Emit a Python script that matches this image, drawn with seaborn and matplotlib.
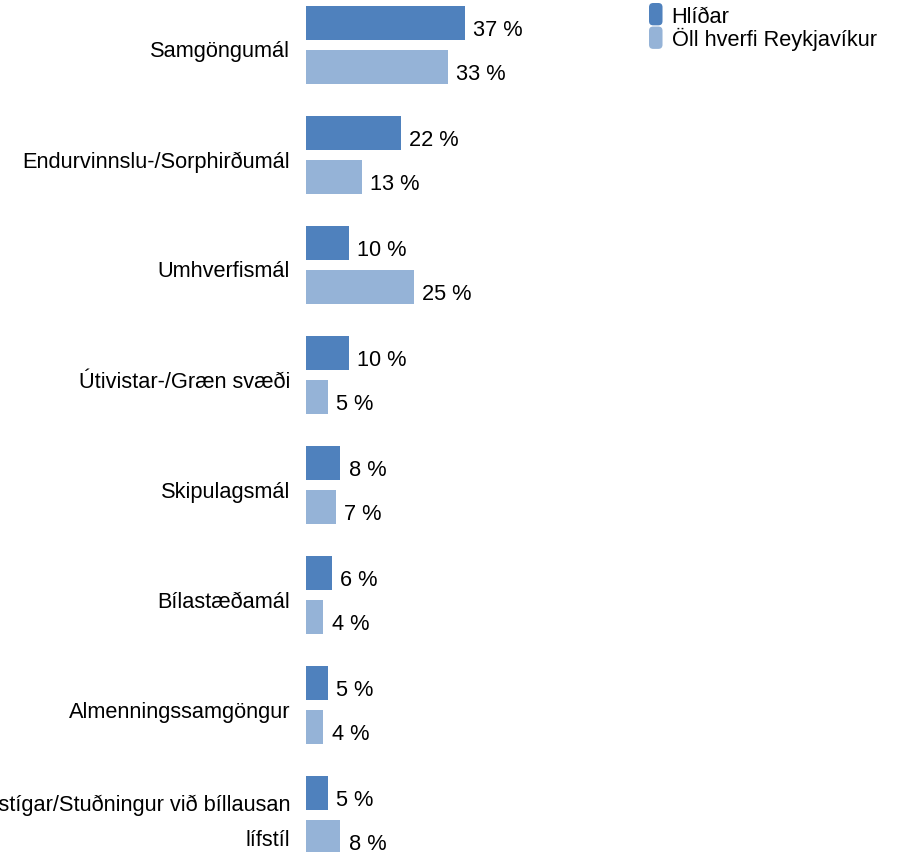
import matplotlib
matplotlib.use("Agg")
import matplotlib.pyplot as plt
import matplotlib.transforms as mtransforms
from matplotlib.patches import Patch, FancyBboxPatch
from matplotlib.legend_handler import HandlerBase
import pandas as pd
import seaborn as sns

categories = [
    "Samgöngumál",
    "Endurvinnslu-/Sorphirðumál",
    "Umhverfismál",
    "Útivistar-/Græn svæði",
    "Skipulagsmál",
    "Bílastæðamál",
    "Almenningssamgöngur",
    "Hjólastígar/Stuðningur við bíllausan\nlífstíl",
]
series_names = ["Hlíðar", "Öll hverfi Reykjavíkur"]
hlidar = [37, 22, 10, 10, 8, 6, 5, 5]
oll_hverfi = [33, 13, 25, 5, 7, 4, 4, 8]
colors = ["#4F81BD", "#95B3D7"]

df = pd.DataFrame({
    "Flokkur": categories * 2,
    "Hlutfall": hlidar + oll_hverfi,
    "Hópur": [series_names[0]] * len(categories) + [series_names[1]] * len(categories),
})

sns.set_theme(style="white")
plt.rcParams["font.family"] = ["Liberation Sans", "DejaVu Sans"]
FS = 15.7


class RoundedKey(HandlerBase):
    """Legend key drawn as a small rounded rectangle."""

    def create_artists(self, legend, orig_handle, xdescent, ydescent,
                       width, height, fontsize, trans):
        box = FancyBboxPatch(
            (-xdescent + 1.5, -ydescent + 1.5), width - 3, height - 3,
            boxstyle="round,pad=1.5,rounding_size=3",
            facecolor=orig_handle.get_facecolor(), edgecolor="none",
            transform=trans,
        )
        return [box]


fig = plt.figure(figsize=(9.01, 8.53), dpi=100)
ax = fig.add_axes([306 / 901, 0.0, 1 - 306 / 901, 1.0])

sns.barplot(
    data=df, y="Flokkur", x="Hlutfall", hue="Hópur", orient="h",
    palette=colors, width=0.8, gap=0.23, ax=ax, legend=False,
    saturation=1, linewidth=0,
)

ax.set_xlim(0, (901 - 306) / 4.3)
ax.set_ylim(7.336, -0.418)
for s in ax.spines.values():
    s.set_visible(False)
ax.set_xticks([])
ax.set_xlabel("")
ax.set_ylabel("")
ax.tick_params(axis="y", length=0, pad=11.5, labelsize=FS, labelcolor="black")
for lbl in ax.get_yticklabels():
    multiline = "\n" in lbl.get_text()
    dy = 3.0 if multiline else -3.5
    lbl.set_linespacing(1.9)
    lbl.set_transform(lbl.get_transform()
                      + mtransforms.ScaledTranslation(0, dy / 100, fig.dpi_scale_trans))

# value labels next to each bar
for container, values in zip(ax.containers, [hlidar, oll_hverfi]):
    for patch, v in zip(container, values):
        ax.annotate(
            f"{v} %",
            xy=(patch.get_width(), patch.get_y() + patch.get_height() / 2),
            xytext=(6, -4.5), textcoords="offset points",
            ha="left", va="center", fontsize=FS, color="black",
        )

handles = [Patch(facecolor=c, edgecolor="none") for c in colors]
fig.legend(
    handles, series_names, loc="upper left",
    bbox_to_anchor=(649 / 901, 1 - 4 / 853), frameon=False, fontsize=FS,
    labelcolor="black",
    handlelength=0.62, handleheight=1.2, handletextpad=0.42,
    labelspacing=0.0, borderpad=0.0, borderaxespad=0.0,
    handler_map={Patch: RoundedKey()},
)

fig.savefig("out.png", dpi=100)
